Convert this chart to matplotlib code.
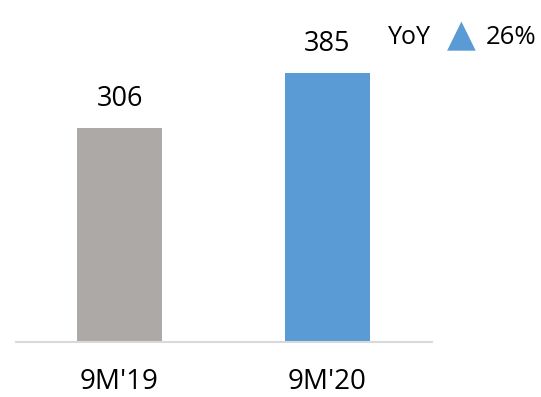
import matplotlib.pyplot as plt

categories = ["9M'19", "9M'20"]
values = [306, 385]
colors = ["#ADA9A7", "#5B9BD5"]
yoy_label = "YoY"
yoy_value = "26%"

plt.rcParams['font.family'] = ['Open Sans', 'DejaVu Sans']

fig = plt.figure(figsize=(5.41, 3.97), dpi=100)
ax = fig.add_axes([15.5 / 541, 55 / 397, 416 / 541, 342 / 397])

x = list(range(len(categories)))
ax.bar(x, values, width=0.405, color=colors)
ax.set_xlim(-0.5, 1.5)
ax.set_ylim(0, 342 / 0.699)

for xi, v in zip(x, values):
    ax.text(xi, v + 29 / 0.699, str(v), ha='center', va='center', fontsize=19.5)

ax.set_xticks(x)
ax.set_xticklabels(categories, fontsize=20)
ax.tick_params(axis='x', length=0, pad=19)
ax.set_yticks([])
for s in ['top', 'right', 'left']:
    ax.spines[s].set_visible(False)
ax.spines['bottom'].set_color('#D9D9D9')
ax.spines['bottom'].set_linewidth(1.5)

fig.text(409 / 541, 1 - 38 / 397, yoy_label, ha='center', va='center', fontsize=18)
fig.text(461 / 541, 1 - 36 / 397, "\u25B2", ha='center', va='center', fontsize=27, color=colors[1])
fig.text(511 / 541, 1 - 38 / 397, yoy_value, ha='center', va='center', fontsize=18.5)

fig.savefig('out.png', dpi=100)
